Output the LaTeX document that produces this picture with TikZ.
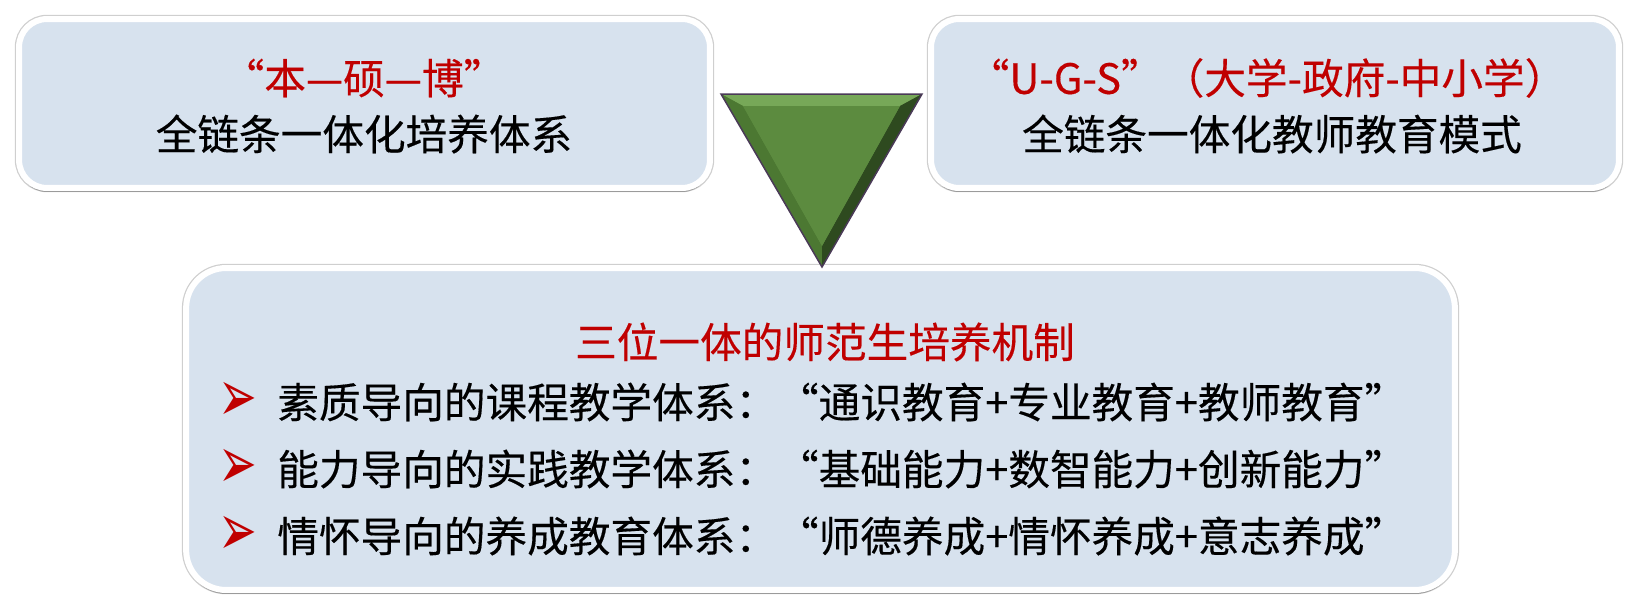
\documentclass[tikz,border=0pt]{standalone}
\usepackage{fontspec}
\newfontfamily\cjk[FakeBold=0.3]{Noto Sans CJK SC}
\newfontfamily\dingfont{DejaVu Sans}
\usepackage{tikz}
\usetikzlibrary{shadows,calc,math}

\definecolor{redtext}{HTML}{C00000}
\definecolor{paneltop}{HTML}{EAF0F8}
\definecolor{panelmid}{HTML}{D7E2EE}
\definecolor{panelband}{HTML}{B3C0CF}
\definecolor{panelbot}{HTML}{8E9DAF}
\definecolor{panelrim}{HTML}{CFCFCF}
\definecolor{leafgreen}{HTML}{5C8B3F}
\definecolor{leaflight}{HTML}{77A858}
\definecolor{leafshade}{HTML}{4C7832}
\definecolor{leafdark}{HTML}{2E4A1F}
\definecolor{leafedge}{HTML}{4A3A57}

\pgfdeclareverticalshading{panelshade}{100bp}{color(0bp)=(panelbot); color(4bp)=(panelband); color(9bp)=(panelmid); color(94bp)=(panelmid); color(100bp)=(paneltop)}

\tikzset{
panel/.style={shade, shading=panelshade, draw=white, line width=0.12cm, rounded corners=#1, inner sep=0pt,
  preaction={draw=panelrim, line width=0.17cm},
  drop shadow={shadow xshift=0pt, shadow yshift=-0.08cm, opacity=0.25, fill=black}},
headtext/.style={font=\cjk\fontsize{23.7}{28}\selectfont, text=redtext, inner sep=0pt},
bodytext/.style={font=\cjk\fontsize{23.7}{28}\selectfont, text=black, inner sep=0pt},
bullettip/.style={font=\dingfont\fontsize{31}{34}\selectfont, text=redtext, inner sep=0pt,
  transform shape, xscale=0.85, yscale=1.35}
}

\begin{document}
\begin{tikzpicture}[x=0.02cm, y=-0.02cm]
\useasboundingbox (0,0) rectangle (1639,612);

\node[panel=0.56cm, minimum width=13.82cm, minimum height=3.38cm] (chainbox) at (364.5,103.5) {};
\node[panel=0.56cm, minimum width=13.76cm, minimum height=3.38cm] (ugsbox) at (1275,103.5) {};
\node[panel=0.8cm, minimum width=25.38cm, minimum height=6.44cm] (mechbox) at (820.5,429) {};

\coordinate (tl) at (721,94);
\coordinate (tr) at (922,94);
\coordinate (tb) at (822,267);
\coordinate (itl) at (743,106);
\coordinate (itr) at (900,106);
\coordinate (itb) at (822,246);
\fill[leafgreen] (tl) -- (tr) -- (tb) -- cycle;
\fill[leaflight] (tl) -- (tr) -- (itr) -- (itl) -- cycle;
\fill[leafshade] (tl) -- (itl) -- (itb) -- (tb) -- cycle;
\fill[leafdark] (tr) -- (tb) -- (itb) -- (itr) -- cycle;
\fill[leafgreen] (itl) -- (itr) -- (itb) -- cycle;
\draw[leafedge, line width=0.03cm, line join=miter] (tl) -- (tr) -- (tb) -- cycle;

\node[headtext] (chainhead) at (364,78) {“本—硕—博”};
\node[bodytext] (chainbody) at (364,134) {全链条一体化培养体系};
\node[headtext] (ugshead) at (1267,78) {“U-G-S”（大学-政府-中小学）};
\node[bodytext] (ugsbody) at (1272,134) {全链条一体化教师教育模式};
\node[headtext] (mechhead) at (825,342) {三位一体的师范生培养机制};

\foreach \ln/\ypos/\txt in {1/402/{素质导向的课程教学体系：“通识教育+专业教育+教师教育”},
  2/469/{能力导向的实践教学体系：“基础能力+数智能力+创新能力”},
  3/536/{情怀导向的养成教育体系：“师德养成+情怀养成+意志养成”}}{
  \node[bullettip] (tip\ln) at (238,\ypos) {➢};
  \node[bodytext, anchor=west] (item\ln) at (277,\ypos) {\txt};
}
\end{tikzpicture}
\end{document}
